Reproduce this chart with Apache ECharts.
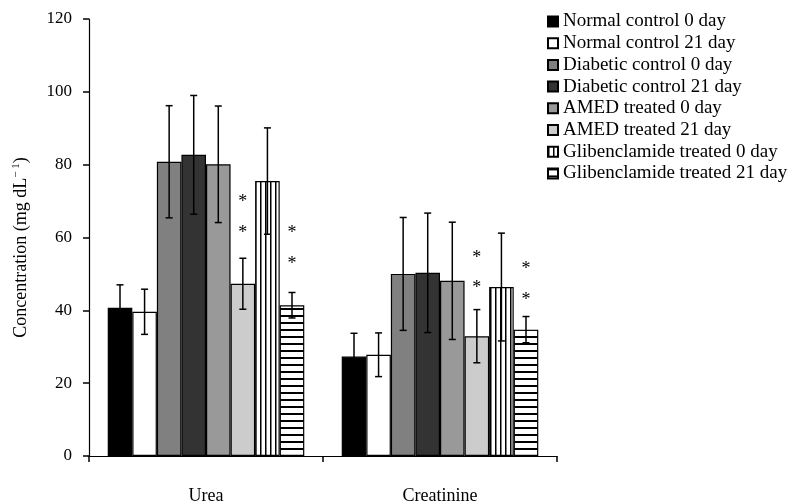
<!DOCTYPE html>
<html>
<head>
<meta charset="utf-8">
<script src="https://cdn.jsdelivr.net/npm/echarts@6/dist/echarts.min.js"></script>
<style>
  html, body { margin: 0; padding: 0; background: #ffffff; }
  #chart { width: 791px; height: 502px; }
</style>
</head>
<body>
<div id="chart"></div>
<script>
  // categories and group names
  var categories = ['Urea', 'Creatinine'];
  var seriesNames = [
    'Normal control 0 day', 'Normal control 21 day',
    'Diabetic control 0 day', 'Diabetic control 21 day',
    'AMED treated 0 day', 'AMED treated 21 day',
    'Glibenclamide treated 0 day', 'Glibenclamide treated 21 day'
  ];

  // means (Urea, Creatinine)
  var normal0 = [40.7, 27.3];
  var normal21 = [39.6, 27.8];
  var diabetic0 = [80.8, 50.0];
  var diabetic21 = [82.7, 50.3];
  var amed0 = [80.1, 48.1];
  var amed21 = [47.3, 32.9];
  var glib0 = [75.5, 46.4];
  var glib21 = [41.4, 34.7];

  // error (SD) values
  var normal0Err = [6.3, 6.4];
  var normal21Err = [6.2, 6.0];
  var diabetic0Err = [15.4, 15.5];
  var diabetic21Err = [16.3, 16.4];
  var amed0Err = [16.0, 16.1];
  var amed21Err = [7.0, 7.3];
  var glib0Err = [14.6, 14.8];
  var glib21Err = [3.5, 3.6];

  // asterisk positions (in data units), per category
  var amed21Stars = [[70.6, 62.1], [55.0, 46.8]];
  var glib21Stars = [[62.0, 53.6], [52.0, 43.7]];

  var yTicks = [0, 20, 40, 60, 80, 100, 120];

  var FONT = '"Liberation Serif", "DejaVu Serif", serif';
  var CAT_GAP = 0.16;

  function stripes(vertical) {
    var c = document.createElement('canvas');
    var ctx = c.getContext('2d');
    if (vertical) {
      c.width = 5; c.height = 5;
      ctx.fillStyle = '#ffffff'; ctx.fillRect(0, 0, 5, 5);
      ctx.fillStyle = '#000000'; ctx.fillRect(0, 0, 1.5, 5);
    } else {
      c.width = 7; c.height = 7;
      ctx.fillStyle = '#ffffff'; ctx.fillRect(0, 0, 7, 7);
      ctx.fillStyle = '#000000'; ctx.fillRect(0, 0, 7, 2);
    }
    return { image: c, repeat: 'repeat' };
  }

  var fills = ['#000000', '#ffffff', '#808080', '#333333', '#999999', '#cccccc', stripes(true), stripes(false)];
  var means = [normal0, normal21, diabetic0, diabetic21, amed0, amed21, glib0, glib21];
  var errs = [normal0Err, normal21Err, diabetic0Err, diabetic21Err, amed0Err, amed21Err, glib0Err, glib21Err];

  var series = [];
  for (var i = 0; i < seriesNames.length; i++) {
    series.push({
      name: seriesNames[i],
      type: 'bar',
      data: means[i],
      barGap: '0%',
      barCategoryGap: (CAT_GAP * 100) + '%',
      itemStyle: { color: fills[i], borderColor: '#000000', borderWidth: 1.2 },
      emphasis: { disabled: true }
    });
  }

  // error bar data: [cat, mean, err, seriesIndex]
  var errData = [];
  for (var s = 0; s < means.length; s++) {
    for (var c = 0; c < categories.length; c++) {
      errData.push([c, means[s][c], errs[s][c], s]);
    }
  }

  function barX(api, cat, val, k) {
    var center = api.coord([cat, val]);
    var bandW = api.size([1, 0])[0];
    var barW = bandW * (1 - CAT_GAP) / seriesNames.length;
    return center[0] + (k - (seriesNames.length - 1) / 2) * barW;
  }

  series.push({
    type: 'custom',
    name: 'errors',
    z: 10,
    silent: true,
    data: errData,
    renderItem: function (params, api) {
      var cat = api.value(0), m = api.value(1), e = api.value(2), k = api.value(3);
      var x = barX(api, cat, m, k);
      var top = api.coord([cat, m + e])[1];
      var bot = api.coord([cat, m - e])[1];
      var cap = 3.5;
      var st = { stroke: '#000000', lineWidth: 1.5 };
      return {
        type: 'group',
        children: [
          { type: 'line', shape: { x1: x, y1: top, x2: x, y2: bot }, style: st },
          { type: 'line', shape: { x1: x - cap, y1: top, x2: x + cap, y2: top }, style: st },
          { type: 'line', shape: { x1: x - cap, y1: bot, x2: x + cap, y2: bot }, style: st }
        ]
      };
    }
  });

  var starData = [];
  for (var c2 = 0; c2 < categories.length; c2++) {
    amed21Stars[c2].forEach(function (v) { starData.push([c2, v, 5]); });
    glib21Stars[c2].forEach(function (v) { starData.push([c2, v, 7]); });
  }

  series.push({
    type: 'custom',
    name: 'stars',
    z: 10,
    silent: true,
    data: starData,
    renderItem: function (params, api) {
      var cat = api.value(0), v = api.value(1), k = api.value(2);
      var x = barX(api, cat, v, k);
      var y = api.coord([cat, v])[1];
      return {
        type: 'text',
        x: x, y: y + 3,
        style: { text: '*', font: '18px ' + FONT, fill: '#000000', align: 'center', verticalAlign: 'middle' }
      };
    }
  });

  var myChart = echarts.init(document.getElementById('chart'));

  myChart.setOption({
    animation: false,
    backgroundColor: '#ffffff',
    textStyle: { fontFamily: FONT, color: '#000000' },
    legend: {
      data: seriesNames,
      orient: 'vertical',
      left: 547,
      top: 12,
      padding: 0,
      itemWidth: 10,
      itemHeight: 10,
      itemGap: 2.7,
      icon: 'rect',
      selectedMode: false,
      textStyle: { fontFamily: FONT, fontSize: 19, color: '#000000', lineHeight: 19 }
    },
    grid: { left: 89, right: 234, top: 19, bottom: 46, containLabel: false, outerBoundsMode: 'none' },
    xAxis: {
      type: 'category',
      data: categories,
      axisLine: { lineStyle: { color: '#000000', width: 1.2 } },
      axisTick: { show: true, length: 6, lineStyle: { color: '#000000', width: 1.5 } },
      axisLabel: { fontFamily: FONT, fontSize: 18, color: '#000000', margin: 31 }
    },
    yAxis: {
      type: 'value',
      min: yTicks[0],
      max: yTicks[yTicks.length - 1],
      interval: yTicks[1] - yTicks[0],
      name: '{a|Concentration (mg dL}{b|\u2212 1}{a|)}',
      nameLocation: 'middle',
      nameGap: 58,
      nameTextStyle: {
        padding: [0, 20, 0, 0],
        rich: {
          a: { fontFamily: FONT, fontSize: 18, color: '#000000' },
          b: { fontFamily: FONT, fontSize: 11, color: '#000000', verticalAlign: 'top', padding: [0, 0, 9, 0] }
        }
      },
      axisLine: { show: true, lineStyle: { color: '#000000', width: 1.2 } },
      axisTick: { show: true, length: 6, lineStyle: { color: '#000000', width: 1.5 } },
      axisLabel: { fontFamily: FONT, fontSize: 17, color: '#000000', margin: 17 },
      splitLine: { show: false }
    },
    series: series
  });
</script>
</body>
</html>
